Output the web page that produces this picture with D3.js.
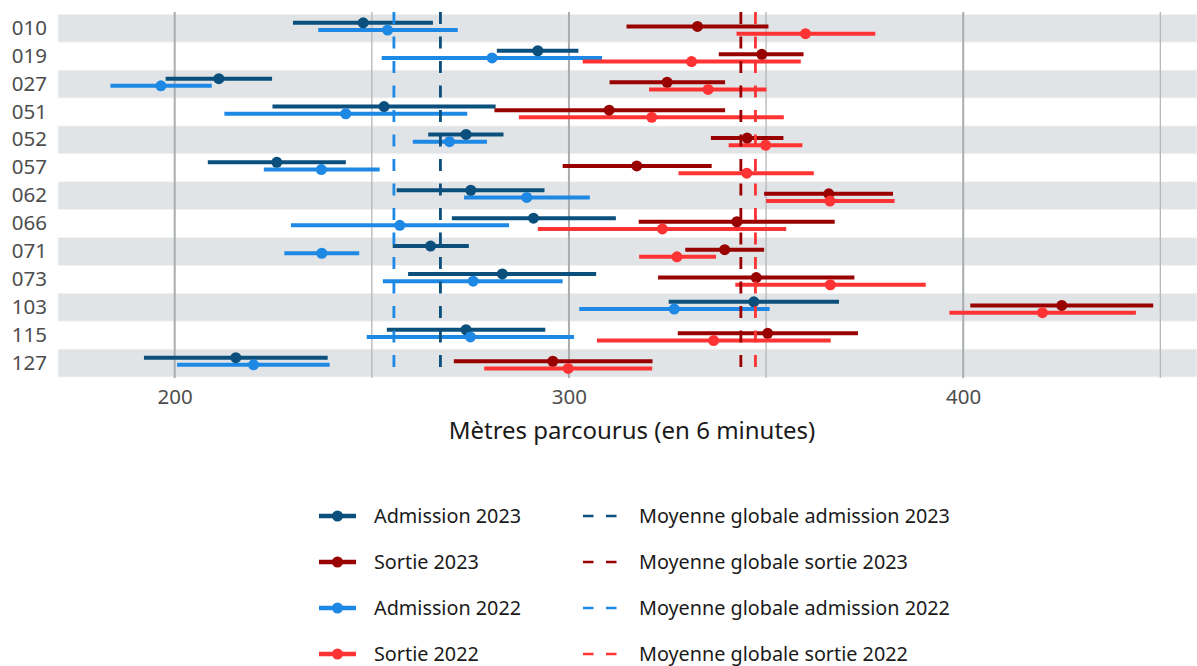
<!DOCTYPE html>
<html>
<head>
<meta charset="utf-8">
<script src="https://cdn.jsdelivr.net/npm/d3@7"></script>
<style>
  html, body { margin: 0; padding: 0; background: #fff; }
  svg { display: block; font-family: "Noto Sans", "Open Sans", sans-serif; }
</style>
</head>
<body>
<svg id="chart" width="1197" height="666"></svg>
<script>
// ---------- data ----------
const categories = ["010","019","027","051","052","057","062","066","071","073","103","115","127"];
const seriesNames = ["Admission 2023","Sortie 2023","Admission 2022","Sortie 2022"];
const seriesColors = ["#0b4f7c","#990000","#1e88e5","#ff3333"];

// [low, estimate, high] per category
const admission2023 = [
  [230.0,247.8,265.5],[281.7,292.1,302.4],[197.7,211.2,224.7],[224.8,253.1,281.4],
  [264.3,273.9,283.4],[208.4,225.9,243.4],[256.3,275.1,293.8],[270.3,291.0,311.9],
  [255.3,264.9,274.6],[259.2,283.1,306.9],[325.3,346.9,368.5],[253.8,273.9,294.0],
  [192.2,215.5,238.8]
];
const sortie2023 = [
  [314.6,332.6,350.6],[338.0,348.9,359.5],[310.3,324.9,339.6],[281.1,310.2,339.6],
  [336.0,345.2,354.4],[298.4,317.2,336.2],[349.5,365.9,382.2],[317.7,342.6,367.4],
  [329.5,339.5,349.5],[322.6,347.5,372.4],[401.8,425.0,448.2],[327.6,350.4,373.3],
  [270.8,295.9,321.2]
];
const admission2022 = [
  [236.4,254.0,271.8],[252.5,280.5,308.4],[183.7,196.5,209.4],[212.6,243.4,274.2],
  [260.4,269.7,279.2],[222.6,237.2,252.0],[273.4,289.3,305.3],[229.5,257.1,284.8],
  [227.8,237.3,246.8],[252.8,275.7,298.4],[302.6,326.7,350.9],[248.7,275.0,301.3],
  [200.6,220.0,239.3]
];
const sortie2022 = [
  [342.5,360.0,377.7],[303.5,331.1,358.8],[320.3,335.3,350.1],[287.3,321.0,354.5],
  [340.5,349.9,359.2],[327.8,345.1,362.1],[350.0,366.2,382.6],[292.1,323.7,355.1],
  [317.8,327.4,337.3],[342.2,366.3,390.5],[396.5,420.1,443.8],[307.1,336.7,366.4],
  [278.5,299.8,321.1]
];
const meanNames = ["Moyenne globale admission 2023","Moyenne globale sortie 2023","Moyenne globale admission 2022","Moyenne globale sortie 2022"];
const meanValues = [267.4, 343.6, 255.6, 347.3];
const xTicks = [200, 300, 400];
const xMinorTicks = [250, 350, 450];
const xTitle = "Mètres parcourus (en 6 minutes)";

const seriesData = [admission2023, sortie2023, admission2022, sortie2022];

// ---------- layout ----------
const svg = d3.select("#chart");
const panel = {left: 58, right: 1197, top: 12, bottom: 378};

const x = d3.scaleLinear().domain([170.4, 459.3]).range([panel.left, panel.right]);
const y = d3.scaleBand().domain(categories).range([14.3, 377]).padding(0);
const dodge = d3.scalePoint().domain(d3.range(4)).range([-5.4, 5.4]);

// bands
svg.append("g").selectAll("rect")
  .data(categories.filter((d,i) => i % 2 === 0))
  .join("rect")
  .attr("x", panel.left).attr("width", panel.right - panel.left)
  .attr("y", d => y(d)).attr("height", y.bandwidth())
  .attr("fill", "#e1e4e7")
  .attr("stroke", "#f4f5f6").attr("stroke-width", 0.8);

// gridlines
svg.append("g").selectAll("line").data(xMinorTicks).join("line")
  .attr("x1", d => x(d)).attr("x2", d => x(d))
  .attr("y1", panel.top).attr("y2", panel.bottom)
  .attr("stroke", "#b4b6b8").attr("stroke-width", 1.3);
svg.append("g").selectAll("line").data(xTicks).join("line")
  .attr("x1", d => x(d)).attr("x2", d => x(d))
  .attr("y1", panel.top).attr("y2", panel.bottom)
  .attr("stroke", "#aaacae").attr("stroke-width", 2);

// error bars
const gLines = svg.append("g");
seriesData.forEach((arr, k) => {
  gLines.append("g").selectAll("line").data(arr).join("line")
    .attr("x1", d => x(d[0])).attr("x2", d => x(d[2]))
    .attr("y1", (d,i) => y(categories[i]) + y.bandwidth()/2 + dodge(k))
    .attr("y2", (d,i) => y(categories[i]) + y.bandwidth()/2 + dodge(k))
    .attr("stroke", seriesColors[k]).attr("stroke-width", 4);
});
const gPts = svg.append("g");
seriesData.forEach((arr, k) => {
  gPts.append("g").selectAll("circle").data(arr).join("circle")
    .attr("cx", d => x(d[1]))
    .attr("cy", (d,i) => y(categories[i]) + y.bandwidth()/2 + dodge(k))
    .attr("r", 5.5)
    .attr("fill", seriesColors[k]);
});

// mean lines
svg.append("g").selectAll("line").data(meanValues).join("line")
  .attr("x1", d => x(d)).attr("x2", d => x(d))
  .attr("y1", panel.top).attr("y2", panel.bottom)
  .attr("stroke", (d,i) => seriesColors[i])
  .attr("stroke-width", 2.8)
  .attr("stroke-dasharray", "12,12.5");

// y axis labels
const yAxis = d3.axisLeft(y).tickSize(0).tickPadding(0);
const gy = svg.append("g").attr("transform", `translate(47,0)`).call(yAxis);
gy.select(".domain").remove();
gy.selectAll("text").attr("font-size", 20.5).attr("fill", "#4d4d4d")
  .attr("font-family", "Noto Sans");

// x axis labels
const xAxis = d3.axisBottom(x).tickValues(xTicks).tickSize(0).tickPadding(0);
const gx = svg.append("g").attr("transform", `translate(0,${panel.bottom})`).call(xAxis);
gx.select(".domain").remove();
gx.selectAll("text").attr("font-size", 20.5).attr("fill", "#4d4d4d")
  .attr("font-family", "Noto Sans").attr("dy", null).attr("y", 26);

// x title
svg.append("text").attr("x", 632).attr("y", 439)
  .attr("text-anchor", "middle").attr("font-size", 24).attr("fill", "#1a1a1a")
  .text(xTitle);

// legend
const legendY = [516, 562, 608, 654];
const lg = svg.append("g");
seriesNames.forEach((name, k) => {
  const g = lg.append("g").attr("transform", `translate(0,${legendY[k]})`);
  g.append("line").attr("x1", 319).attr("x2", 356).attr("y1", 0).attr("y2", 0)
    .attr("stroke", seriesColors[k]).attr("stroke-width", 4.5);
  g.append("circle").attr("cx", 337.5).attr("cy", 0).attr("r", 5.5).attr("fill", seriesColors[k]);
  g.append("text").attr("x", 374).attr("y", 7).attr("font-size", 19.8).attr("fill", "#1a1a1a").text(name);
});
meanNames.forEach((name, k) => {
  const g = lg.append("g").attr("transform", `translate(0,${legendY[k]})`);
  g.append("line").attr("x1", 583).attr("x2", 617).attr("y1", 0).attr("y2", 0)
    .attr("stroke", seriesColors[k]).attr("stroke-width", 2.6)
    .attr("stroke-dasharray", "10.5,12.5");
  g.append("text").attr("x", 639).attr("y", 7).attr("font-size", 19.8).attr("fill", "#1a1a1a").text(name);
});
</script>
</body>
</html>
